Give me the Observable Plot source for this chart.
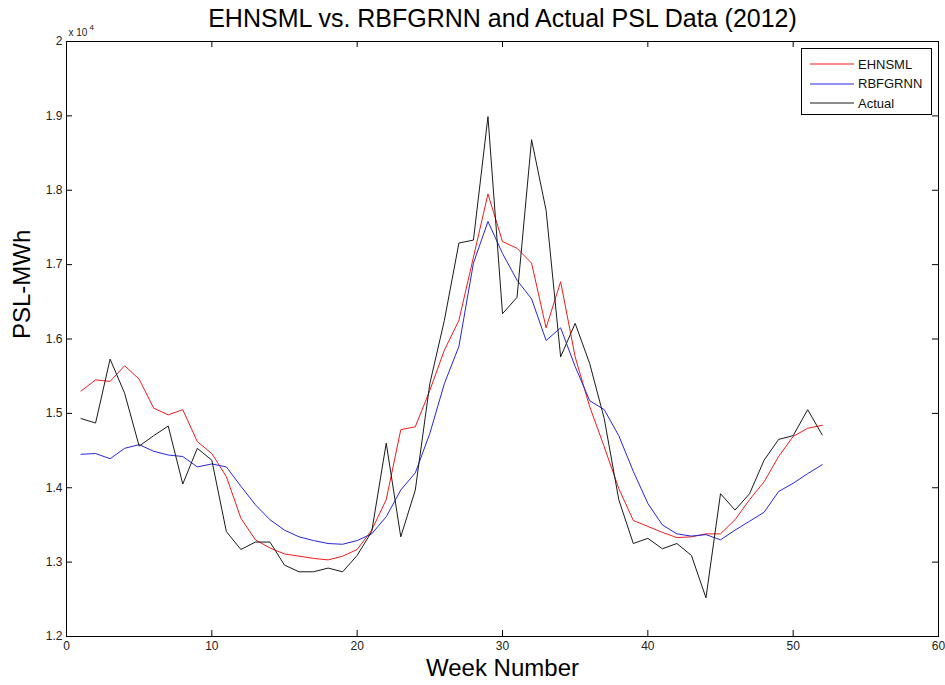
<!DOCTYPE html>
<html><head><meta charset="utf-8">
<script src="https://cdn.jsdelivr.net/npm/d3@7"></script>
<script src="https://cdn.jsdelivr.net/npm/@observablehq/plot@0.6"></script>
<style>
body{margin:0;background:#fff;}
#wrap{position:relative;width:945px;height:685px;}
#legend{position:absolute;left:801px;top:48px;width:131px;height:67px;border:1px solid #000;background:#fff;box-sizing:border-box;font-family:"Liberation Sans",Arial,sans-serif;font-size:13px;}
.row{position:absolute;left:8px;height:16px;display:flex;align-items:center;}
.row span{margin-left:4px;color:#111;}
</style></head><body><div id="wrap"></div>
<script>
const titleText = "EHNSML vs. RBFGRNN and Actual PSL Data (2012)";
const xLabel = "Week Number";
const yLabel = "PSL-MWh";
const weeks = [1,2,3,4,5,6,7,8,9,10,11,12,13,14,15,16,17,18,19,20,21,22,23,24,25,26,
  27,28,29,30,31,32,33,34,35,36,37,38,39,40,41,42,43,44,45,46,47,48,49,50,51,52];
const ehnsml = [15300,15450,15430,15640,15460,15070,14980,15050,14620,14460,14150,13590,13300,13190,13110,13080,13050,13030,13080,13170,
  13430,13840,14780,14820,15310,15850,16250,17100,17950,17310,17220,17020,16150,16770,15760,15090,14550,13990,13560,13480,
  13400,13330,13340,13380,13380,13570,13840,14080,14420,14690,14800,14840];
const rbfgrnn = [14450,14460,14390,14530,14580,14490,14440,14420,14280,14320,14280,14020,13770,13570,13430,13340,13290,13250,13240,13290,
  13380,13610,13970,14200,14730,15400,15900,17020,17580,17150,16790,16540,15980,16150,15630,15170,15050,14700,14220,13790,
  13500,13380,13350,13370,13300,13430,13550,13670,13950,14060,14190,14310];
const actual = [14930,14870,15730,15270,14560,14700,14830,14050,14530,14370,13410,13170,13270,13270,12960,12870,12870,12920,12870,13090,
  13410,14600,13340,13970,15400,16250,17290,17330,18990,16340,16560,18680,17730,15760,16210,15670,14930,13840,13250,13320,
  13180,13250,13090,12520,13920,13700,13920,14370,14650,14700,15050,14710];
const seriesNames = ["EHNSML","RBFGRNN","Actual"];
const seriesColors = ["#ee1c1c","#2626d9","#1a1a1a"];
const xTicks = [0,10,20,30,40,50,60];
const yTicks = [12000,13000,14000,15000,16000,17000,18000,19000,20000];
const yTickLabels = ["1.2","1.3","1.4","1.5","1.6","1.7","1.8","1.9","2"];

const seriesValues = [ehnsml, rbfgrnn, actual];
const rows = [];
seriesNames.forEach((name, i) => weeks.forEach((w, j) => rows.push({series: name, week: w, value: seriesValues[i][j]})));

const W = 945, H = 685, mL = 66, mR = 7, mT = 41, mB = 49;
const pw = W - mL - mR, ph = H - mT - mB;
const font = "'Liberation Sans', Arial, sans-serif";

const chart = Plot.plot({
  width: W, height: H,
  marginLeft: mL, marginRight: mR, marginTop: mT, marginBottom: mB,
  style: {fontFamily: font, background: "#fff"},
  x: {domain: [0, 60], label: null},
  y: {domain: [12000, 20000], label: null},
  color: {domain: seriesNames, range: seriesColors},
  marks: [
    Plot.frame({stroke: "#000", strokeWidth: 1}),
    Plot.tickX(xTicks, {x: d => d, insetTop: ph - 6, stroke: "#000"}),
    Plot.tickX(xTicks, {x: d => d, insetBottom: ph - 6, stroke: "#000"}),
    Plot.tickY(yTicks, {y: d => d, insetRight: pw - 6, stroke: "#000"}),
    Plot.tickY(yTicks, {y: d => d, insetLeft: pw - 6, stroke: "#000"}),
    Plot.axisX({ticks: xTicks, tickSize: 0, tickPadding: 5, fontSize: 12, color: "#222", label: null}),
    Plot.axisY({ticks: yTicks, tickSize: 0, tickPadding: 4, fontSize: 12, color: "#222", label: null,
      tickFormat: d => yTickLabels[yTicks.indexOf(d)]}),
    Plot.line(rows, {x: "week", y: "value", stroke: "series", z: "series", strokeWidth: 1}),
    Plot.text([titleText], {frameAnchor: "top", lineAnchor: "middle", dy: -23, fontSize: 25, fill: "#000"}),
    Plot.text([xLabel], {frameAnchor: "bottom", lineAnchor: "middle", dy: 32, fontSize: 24, fill: "#000"}),
    Plot.text([yLabel], {frameAnchor: "left", lineAnchor: "middle", dx: -44, rotate: -90, fontSize: 24, fill: "#000"}),
    Plot.text(["x 10"], {frameAnchor: "top-left", lineAnchor: "middle", dy: -9, dx: 2, textAnchor: "start", fontSize: 10, fill: "#222"}),
    Plot.text(["4"], {frameAnchor: "top-left", lineAnchor: "middle", dy: -14, dx: 23, textAnchor: "start", fontSize: 8, fill: "#222"})
  ]
});
const wrap = document.getElementById("wrap");
wrap.appendChild(chart);

const legend = document.createElement("div");
legend.id = "legend";
seriesNames.forEach((name, i) => {
  const r = document.createElement("div");
  r.className = "row";
  r.style.top = (7 + i * 19.5) + "px";
  r.innerHTML = `<svg width="44" height="4"><line x1="0" y1="2" x2="44" y2="2" stroke="${seriesColors[i]}" stroke-width="1"/></svg><span>${name}</span>`;
  legend.appendChild(r);
});
wrap.appendChild(legend);
</script>
</body></html>
